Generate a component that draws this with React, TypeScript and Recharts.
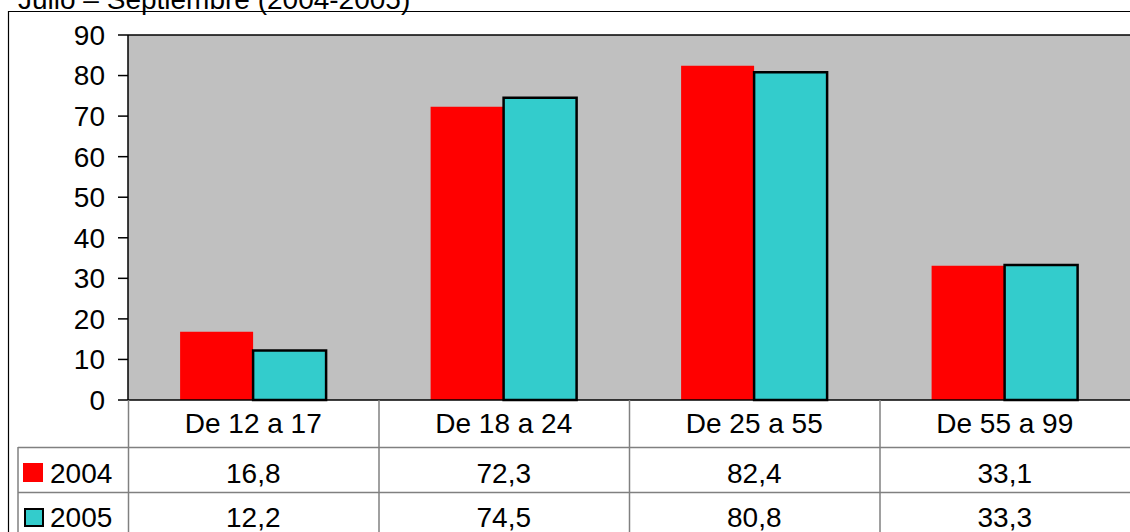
import React from "react";
import {
  BarChart, Bar, XAxis, YAxis, CartesianGrid, ReferenceLine,
} from "recharts";

const categories = ["De 12 a 17", "De 18 a 24", "De 25 a 55", "De 55 a 99"];
const values2004 = [16.8, 72.3, 82.4, 33.1];
const values2005 = [12.2, 74.5, 80.8, 33.3];
const yTicks = [0, 10, 20, 30, 40, 50, 60, 70, 80, 90];
const seriesNames = ["2004", "2005"];

const W = 1130;
const H = 532;
const PLOT_LEFT = 128;
const PLOT_TOP = 35;
const PLOT_BOTTOM = 400;
const FONT = "'Liberation Sans', Arial, sans-serif";
const RED = "#FF0000";
const CYAN = "#33CCCC";
const TABLE_LINE = "#808080";

const fmt = (v: number) => v.toFixed(1).replace(".", ",");

const data = categories.map((c, i) => ({
  name: c,
  y2004: values2004[i],
  y2005: values2005[i],
}));

// each x-axis tick draws one column of the data table
const TableTick = (props: { x?: number; y?: number; payload?: { value: string; index: number } }) => {
  const { x = 0, y = 0, payload } = props;
  const i = payload?.index ?? 0;
  return (
    <g fontFamily={FONT} fontSize={28} fill="#000">
      <text x={x} y={y + 33} textAnchor="middle">{payload?.value}</text>
      <text x={x} y={y + 83} textAnchor="middle">{fmt(values2004[i])}</text>
      <text x={x} y={y + 127} textAnchor="middle">{fmt(values2005[i])}</text>
    </g>
  );
};

export default function App() {
  const band = (W - PLOT_LEFT) / categories.length;
  return (
    <div style={{ position: "absolute", left: 0, top: 0, width: W, height: H, overflow: "hidden", background: "#fff" }}>
      <BarChart
        width={W}
        height={H}
        data={data}
        margin={{ top: PLOT_TOP, right: 0, left: 8, bottom: 0 }}
        barGap={0}
        barCategoryGap="20.8%"
      >
        <CartesianGrid fill="#C0C0C0" horizontal={false} vertical={false} />
        <XAxis
          dataKey="name"
          height={H - PLOT_BOTTOM}
          tickLine={false}
          tickSize={0}
          tickMargin={0}
          axisLine={{ stroke: "#000", strokeWidth: 1.5 }}
          tick={<TableTick />}
          interval={0}
        />
        <YAxis
          width={120}
          domain={[0, 90]}
          ticks={yTicks}
          interval={0}
          tickSize={10}
          tickMargin={13}
          tick={{ fill: "#000", fontSize: 28, fontFamily: FONT }}
          axisLine={{ stroke: "#000", strokeWidth: 1.5 }}
          tickLine={{ stroke: "#000", strokeWidth: 1.5 }}
        />
        <ReferenceLine y={90} stroke="#000" strokeWidth={1.5} />
        <Bar dataKey="y2004" fill={RED} isAnimationActive={false} />
        <Bar dataKey="y2005" fill={CYAN} stroke="#000" strokeWidth={2.5} isAnimationActive={false} />
      </BarChart>

      <svg width={W} height={H} style={{ position: "absolute", left: 0, top: 0, pointerEvents: "none" }}>
        <text x={18} y={9} fontFamily={FONT} fontSize={28} fill="#000">
          Julio – Septiembre (2004-2005)
        </text>
        {/* outer chart border */}
        <line x1={8} y1={11.5} x2={W} y2={11.5} stroke="#000" strokeWidth={1.2} />
        <line x1={8.5} y1={11} x2={8.5} y2={H} stroke="#000" strokeWidth={1.2} />
        {/* data table grid */}
        {categories.map((_, i) => (
          <line key={i} x1={PLOT_LEFT + band * i + 0.5} y1={PLOT_BOTTOM} x2={PLOT_LEFT + band * i + 0.5} y2={H}
            stroke={TABLE_LINE} strokeWidth={1.5} />
        ))}
        <line x1={18} y1={447.5} x2={W} y2={447.5} stroke={TABLE_LINE} strokeWidth={1.5} />
        <line x1={18} y1={492.5} x2={W} y2={492.5} stroke={TABLE_LINE} strokeWidth={1.5} />
        <line x1={18} y1={447} x2={18} y2={H} stroke={TABLE_LINE} strokeWidth={1.5} />
        {/* legend keys */}
        <rect x={23} y={463} width={20} height={19} fill={RED} />
        <text x={50} y={483} fontFamily={FONT} fontSize={28} fill="#000">{seriesNames[0]}</text>
        <rect x={25} y={509} width={18} height={17} fill={CYAN} stroke="#000" strokeWidth={2} />
        <text x={50} y={527} fontFamily={FONT} fontSize={28} fill="#000">{seriesNames[1]}</text>
      </svg>
    </div>
  );
}
